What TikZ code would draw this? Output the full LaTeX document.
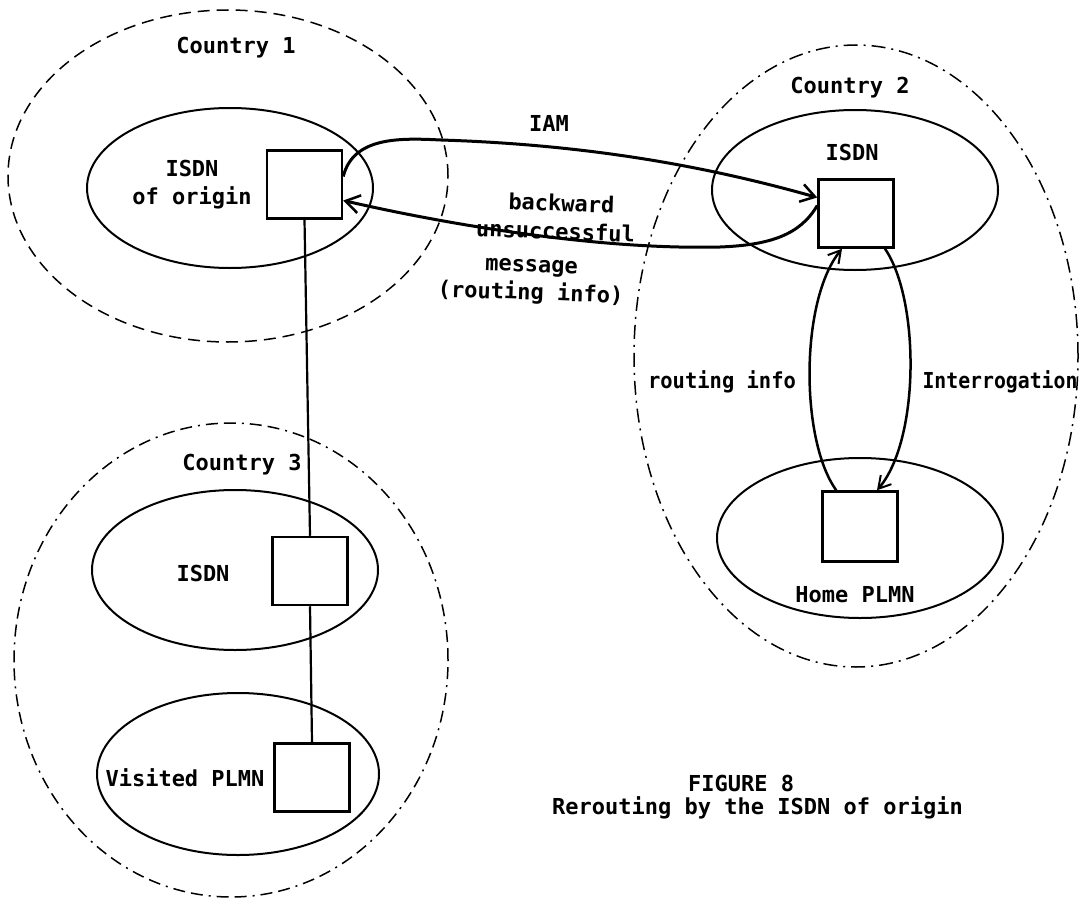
\documentclass[tikz,border=0pt]{standalone}
\usepackage{fontspec}
\setmonofont{DejaVu Sans Mono}
\usetikzlibrary{shapes.geometric,arrows.meta}
\begin{document}
\begin{tikzpicture}[x=1pt,y=-1pt,
  region/.style={draw, ellipse, inner sep=0pt, line width=1.5pt},
  cone/.style={dash pattern=on 12pt off 7pt},
  ctwo/.style={dash pattern=on 14pt off 6pt on 2pt off 6pt},
  cthree/.style={dash pattern=on 12pt off 6pt on 12pt off 6pt on 2pt off 6pt},
  net/.style={draw, ellipse, inner sep=0pt, line width=2pt},
  sw/.style={draw, rectangle, inner sep=0pt, line width=2.5pt, minimum width=75pt, minimum height=68pt},
  lbl/.style={font=\ttfamily\bfseries\fontsize{22}{28}\selectfont, inner sep=0pt, align=center},
  msg/.style={line width=3pt, -{Straight Barb[length=14pt,width=18pt,line width=2.5pt]}},
  loopmsg/.style={line width=2.5pt, -{Straight Barb[length=12pt,width=14pt,line width=2pt]}},
  link/.style={line width=2.2pt}
]
\useasboundingbox (0,0) rectangle (1087,899);

% country regions
\node[region, cone, minimum width=440pt, minimum height=332pt] (C1) at (228,176) {};
\node[region, ctwo, minimum width=444pt, minimum height=622pt] (C2) at (856,356) {};
\node[region, cthree, minimum width=434pt, minimum height=474pt] (C3) at (231,660) {};

% networks
\node[net, minimum width=286pt, minimum height=160pt] (N1) at (230,188) {};
\node[net, minimum width=286pt, minimum height=160pt] (N2) at (855,190) {};
\node[net, minimum width=286pt, minimum height=160pt] (N3) at (860,538) {};
\node[net, minimum width=286pt, minimum height=160pt] (N4) at (235,570) {};
\node[net, minimum width=282pt, minimum height=162pt] (N5) at (238,774) {};

% exchanges
\node[sw] (O) at (304.5,184.5) {};
\node[sw] (I2) at (856,213.5) {};
\node[sw, minimum height=70pt] (H) at (860,526.5) {};
\node[sw] (I3) at (310,571) {};
\node[sw] (V) at (312,777.5) {};

% labels
\node[lbl] (tC1) at (236,48) {Country 1};
\node[lbl] (tO) at (192,185) {ISDN\\of origin};
\node[lbl] (tC2) at (850,88) {Country 2};
\node[lbl] (tI2) at (852,152) {ISDN};
\node[lbl] (tH) at (855,595) {Home PLMN};
\node[lbl] (tC3) at (242,465) {Country 3};
\node[lbl] (tI3) at (203,573) {ISDN};
\node[lbl] (tV) at (185,778) {Visited PLMN};
\node[lbl] (tIAM) at (549,123) {IAM};
\node[lbl, rotate=-2] (tB) at (556,217) {\hspace*{10pt}backward\\unsuccessful};
\node[lbl, rotate=-2] (tM) at (531,282) {message\\(routing info)};
\node[lbl, xscale=0.93] (tR) at (722,382) {routing info};
\node[lbl, xscale=0.9] (tInt) at (1000,382) {Interrogation};
\node[lbl, anchor=west] (tF1) at (688,783) {FIGURE 8};
\node[lbl, anchor=west] (tF2) at (552,808) {Rerouting by the ISDN of origin};

% links
\draw[link] (O.south) -- (I3.north);
\draw[link] (I3.south) -- (V.north);

% messages
\draw[msg] ([yshift=8pt]O.east) .. controls +(10,-40) and (400,138) .. (441,140)
  .. controls (600,145) and (720,170) .. ([yshift=16pt]I2.west);
\draw[msg] ([yshift=8pt]I2.west) .. controls (800,235) and (770,245) .. (720,247)
  .. controls (600,250) and (450,225) .. ([yshift=-16pt]O.east);
\draw[loopmsg] ([xshift=15pt]H.north west) .. controls (800,440) and (800,300) .. ([xshift=-14pt]I2.south);
\draw[loopmsg] ([xshift=29pt]I2.south) .. controls (920,300) and (920,440) .. ([xshift=17pt]H.north);
\end{tikzpicture}
\end{document}
